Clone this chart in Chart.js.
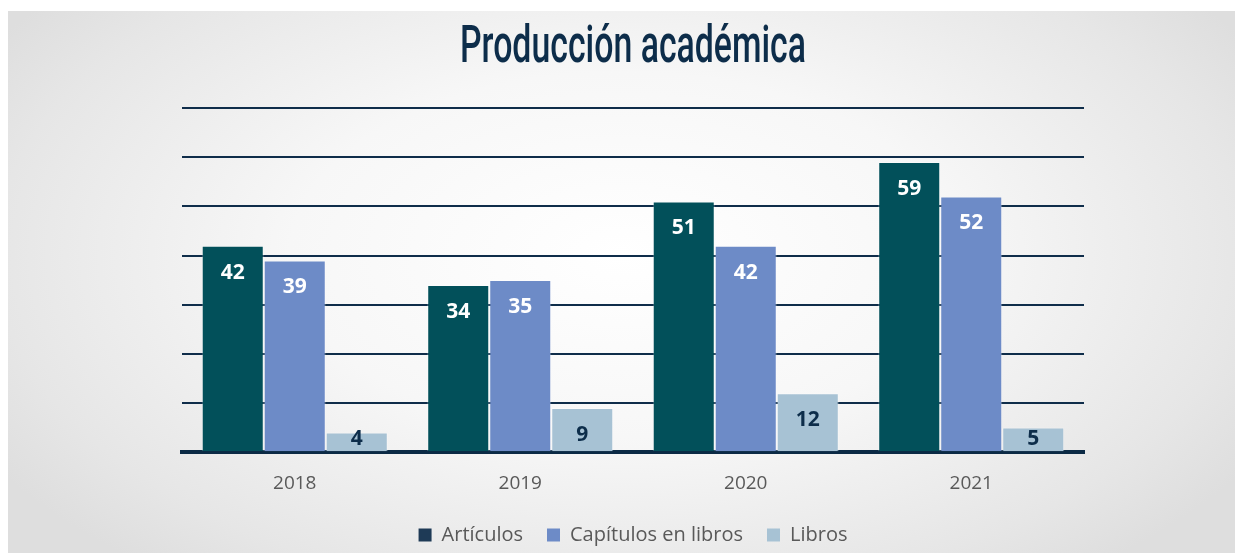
<!DOCTYPE html>
<html lang="es">
<head>
<meta charset="utf-8">
<title>Producción académica</title>
<script src="https://cdn.jsdelivr.net/npm/chart.js"></script>
<style>
    html, body {
        margin: 0;
        padding: 0;
        background: #ffffff;
        width: 1243px;
        height: 553px;
        overflow: hidden;
    }
    .chart-frame {
        position: absolute;
        left: 8px;
        top: 11px;
        width: 1227px;
        height: 542px;
        background: radial-gradient(ellipse 60% 75% at 50% 45%, #ffffff 0%, #f7f7f7 45%, #e6e6e6 85%, #dedede 100%);
    }
</style>
</head>
<body>
<div class="chart-frame">
    <canvas id="produccion-chart" width="1227" height="542"></canvas>
</div>
<script>
// Datos del gráfico
const years = ['2018', '2019', '2020', '2021'];
const articulos = [42, 34, 51, 59];
const capitulos = [39, 35, 42, 52];
const libros = [4, 9, 12, 5];
const seriesNames = ['Artículos', 'Capítulos en libros', 'Libros'];

const barColors = ['#02505a', '#6d8bc7', '#a7c2d4'];
const legendColors = ['#1e3a56', '#6d8bc7', '#a7c2d4'];
const labelColors = ['#ffffff', '#ffffff', '#0d2d4a'];
const navy = '#0f2d4a';

// Title drawn condensed (no Oswald available)
const titlePlugin = {
    id: 'condensedTitle',
    afterDraw(chart) {
        const ctx = chart.ctx;
        const text = 'Producción académica';
        ctx.save();
        ctx.font = '500 51px Roboto';
        const w = ctx.measureText(text).width;
        const targetW = 346;
        ctx.translate(625, 51);
        ctx.scale(targetW / w, 1);
        ctx.fillStyle = '#0d2d4a';
        ctx.textAlign = 'center';
        ctx.textBaseline = 'alphabetic';
        ctx.fillText(text, 0, 0);
        ctx.restore();
    }
};

// Value labels inside the end of each bar
const valueLabels = {
    id: 'valueLabels',
    afterDatasetsDraw(chart) {
        const ctx = chart.ctx;
        ctx.save();
        ctx.font = 'bold 21px "Open Sans"';
        ctx.textAlign = 'center';
        ctx.textBaseline = 'middle';
        chart.data.datasets.forEach((ds, i) => {
            const meta = chart.getDatasetMeta(i);
            meta.data.forEach((bar, j) => {
                const y = Math.min(bar.y + 27, bar.base - 12);
                ctx.fillStyle = labelColors[i];
                ctx.fillText(String(ds.data[j]), bar.x, y);
            });
        });
        ctx.restore();
    }
};

const ctx = document.getElementById('produccion-chart');
new Chart(ctx, {
    type: 'bar',
    data: {
        labels: years,
        datasets: [articulos, capitulos, libros].map((values, i) => ({
            label: seriesNames[i],
            data: values,
            backgroundColor: barColors[i],
            borderColor: 'rgba(255, 255, 255, 0.3)',
            borderWidth: 1,
            categoryPercentage: 0.825,
            barPercentage: 1
        }))
    },
    options: {
        responsive: false,
        animation: false,
        layout: {
            padding: { left: 174, right: 151, top: 97, bottom: -2 }
        },
        plugins: {
            title: { display: false },
            tooltip: { enabled: false },
            legend: {
                position: 'bottom',
                labels: {
                    font: { family: '"Open Sans"', size: 20 },
                    color: '#595959',
                    boxWidth: 13,
                    boxHeight: 13,
                    padding: 24,
                    generateLabels: (chart) => seriesNames.map((name, i) => ({
                        text: name,
                        fillStyle: legendColors[i],
                        strokeStyle: legendColors[i],
                        lineWidth: 0,
                        fontColor: '#595959',
                        datasetIndex: i
                    }))
                }
            }
        },
        scales: {
            x: {
                grid: { display: false, drawTicks: false },
                border: { display: true, color: '#0b2a45', width: 4 },
                ticks: {
                    color: '#595959',
                    font: { family: '"Open Sans"', size: 19 },
                    padding: 20
                },
                afterFit: (scale) => {
                    scale.height -= 14;
                }
            },
            y: {
                min: 0,
                max: 70,
                ticks: { display: false, stepSize: 10 },
                border: { display: false },
                grid: { color: navy, lineWidth: 2, drawTicks: false }
            }
        }
    },
    plugins: [titlePlugin, valueLabels]
});
</script>
</body>
</html>
